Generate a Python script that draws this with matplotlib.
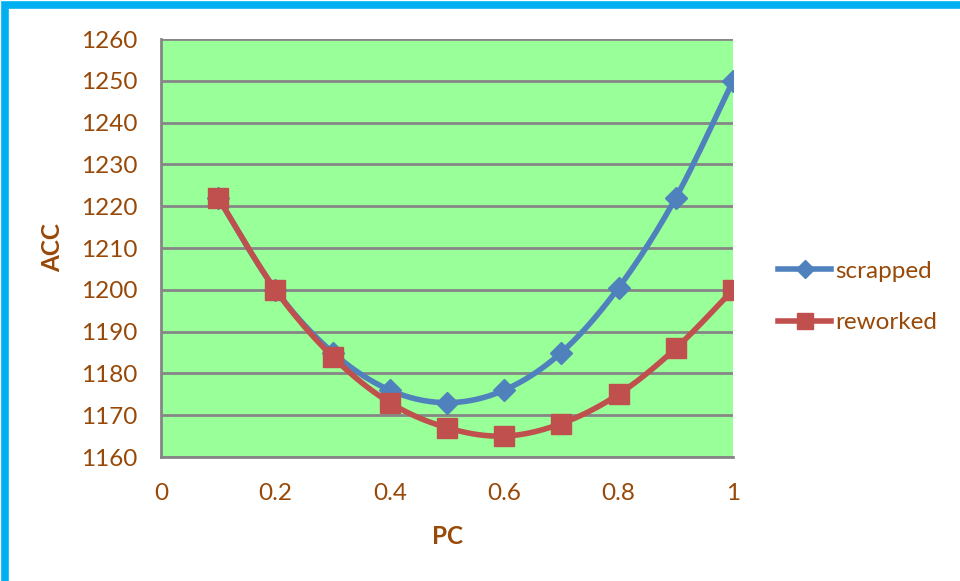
import numpy as np
import matplotlib.pyplot as plt
from matplotlib.patches import Rectangle
from matplotlib.lines import Line2D

plt.rcParams['font.family'] = ['Lato', 'DejaVu Sans']

# PC vs ACC for the two cases
pc = [0.1, 0.2, 0.3, 0.4, 0.5, 0.6, 0.7, 0.8, 0.9, 1.0]
acc_scrapped = [1222, 1200, 1185, 1176, 1173, 1176, 1185, 1200.5, 1222, 1250]
acc_reworked = [1222, 1200, 1184, 1173, 1167, 1165, 1168, 1175, 1186, 1200]

xticks = [0, 0.2, 0.4, 0.6, 0.8, 1]
yticks = list(range(1160, 1261, 10))

text_col = '#984807'
blue = '#4F81BD'
red = '#C0504D'


def smooth(x, y, n=30):
    # Catmull-Rom style smoothing between the points, like a spreadsheet "smoothed line"
    x = np.asarray(x, float)
    y = np.asarray(y, float)
    px = np.concatenate([[x[0]], x, [x[-1]]])
    py = np.concatenate([[y[0]], y, [y[-1]]])
    xs, ys = [], []
    for i in range(1, len(px) - 2):
        p0x, p1x, p2x, p3x = px[i - 1], px[i], px[i + 1], px[i + 2]
        p0y, p1y, p2y, p3y = py[i - 1], py[i], py[i + 1], py[i + 2]
        c1x = p1x + (p2x - p0x) / 6
        c1y = p1y + (p2y - p0y) / 6
        c2x = p2x - (p3x - p1x) / 6
        c2y = p2y - (p3y - p1y) / 6
        t = np.linspace(0, 1, n)
        b0 = (1 - t) ** 3
        b1 = 3 * (1 - t) ** 2 * t
        b2 = 3 * (1 - t) * t ** 2
        b3 = t ** 3
        xs.append(b0 * p1x + b1 * c1x + b2 * c2x + b3 * p2x)
        ys.append(b0 * p1y + b1 * c1y + b2 * c2y + b3 * p2y)
    return np.concatenate(xs), np.concatenate(ys)


fig = plt.figure(figsize=(9.6, 5.81), dpi=100)
ax = fig.add_axes([161 / 960, 124 / 581, 572 / 960, 418 / 581])
ax.set_facecolor('#99FF99')

sx, sy = smooth(pc, acc_scrapped)
rx, ry = smooth(pc, acc_reworked)
ax.plot(sx, sy, color=blue, lw=4, solid_capstyle='round', zorder=3)
ax.plot(pc, acc_scrapped, ls='none', marker='D', ms=11.5, color=blue, zorder=4)
ax.plot(rx, ry, color=red, lw=4, solid_capstyle='round', zorder=5)
ax.plot(pc, acc_reworked, ls='none', marker='s', ms=14.5, color=red, zorder=6)

ax.set_xlim(0, 1)
ax.set_ylim(1160, 1260)
ax.set_xticks(xticks)
ax.set_xticklabels(['0', '0.2', '0.4', '0.6', '0.8', '1'])
ax.set_yticks(yticks)
ax.grid(axis='y', color='#868686', lw=2)
ax.set_axisbelow(True)
ax.tick_params(length=0, labelsize=17.5, labelcolor=text_col)
ax.tick_params(axis='y', pad=17)
ax.tick_params(axis='x', pad=19)

for side in ['top', 'right']:
    ax.spines[side].set_visible(False)
for side in ['left', 'bottom']:
    ax.spines[side].set_color('#868686')
    ax.spines[side].set_linewidth(2)

ax.set_xlabel('PC', fontsize=17.5, fontweight='bold', color=text_col, labelpad=15)
ax.set_ylabel('ACC', fontsize=17.5, fontweight='bold', color=text_col, labelpad=12)

handles = [
    Line2D([], [], color=blue, lw=4, marker='D', ms=9),
    Line2D([], [], color=red, lw=4, marker='s', ms=12),
]
leg = fig.legend(handles, ['scrapped', 'reworked'], loc='center left',
                 bbox_to_anchor=(778 / 960, 1 - 297 / 581), frameon=False,
                 fontsize=17.5, handlelength=2.2, handletextpad=0.15,
                 labelspacing=1.25, borderaxespad=0, borderpad=0)
for t in leg.get_texts():
    t.set_color(text_col)

# blue frame along the top and left edges
fig.patches.append(Rectangle((5 / 960, -0.1), 1.1, 1.1 - 5 / 581,
                             transform=fig.transFigure, fill=False,
                             edgecolor='#00B0F0', lw=5.5))

fig.savefig('out.png', dpi=100)
